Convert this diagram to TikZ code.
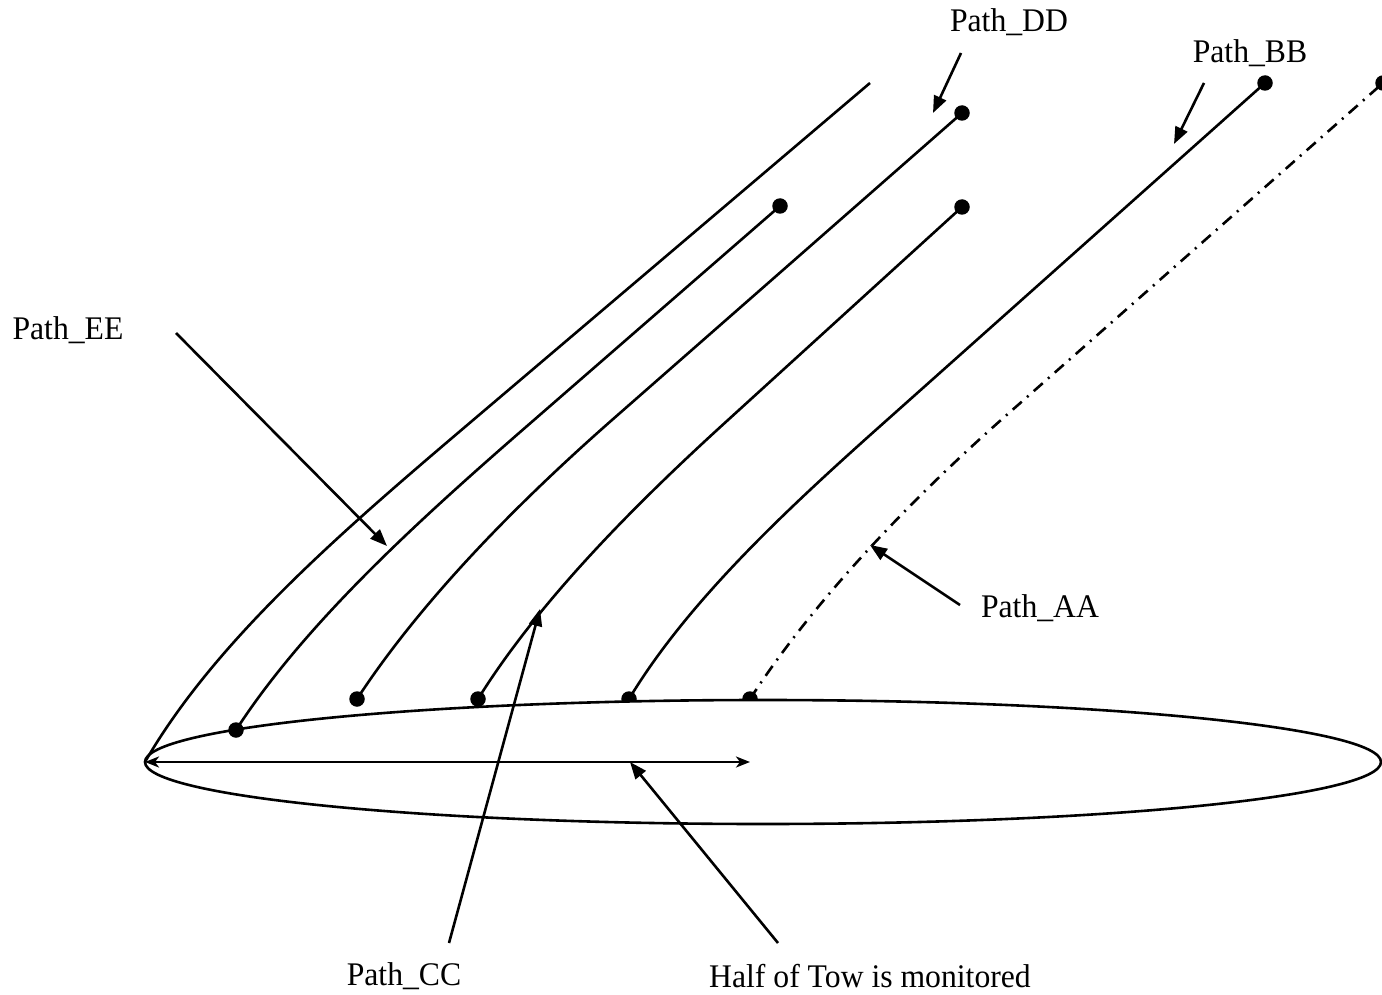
\documentclass[tikz,border=0pt]{standalone}
\usepackage{fontspec}
\setmainfont{Liberation Serif}
\usetikzlibrary{arrows.meta,shapes.geometric}
\newcommand{\labtxt}[1]{\scalebox{0.96}[1]{#1}}
\begin{document}
\begin{tikzpicture}[x=1pt,y=-1pt,
  line/.style={line width=2.6pt},
  dot/.style={circle,fill=black,inner sep=0pt,minimum size=15.5pt},
  lab/.style={font=\fontsize{33}{39}\selectfont,inner sep=0pt},
  pointer/.style={line width=2.6pt,-{Triangle[length=17pt,width=13pt]}},
  dbl/.style={line width=2.6pt,{Stealth[length=14pt,width=11pt,inset=4pt]}-{Stealth[length=14pt,width=11pt,inset=4pt]}},
  dashdot/.style={line width=2.6pt,dash pattern=on 12pt off 7pt on 2pt off 7pt}]
\useasboundingbox (0,0) rectangle (1382,995);

% dots partly under the ellipse
\node[dot] (a1) at (750,699) {};
\node[dot] (a2) at (1383,83) {};
\node[dot] (b1) at (629,699) {};
\node[dot] (b2) at (1265,83) {};
\draw[dashdot] (a1.center) .. controls (811,605) and (903,507) .. (1001,420) -- (a2.center);
\draw[line] (b1.center) .. controls (688,601) and (788,508) .. (887,420) -- (b2.center);

% the tow
\node[draw,line width=2.6pt,fill=white,ellipse,inner sep=0pt,minimum width=1236pt,minimum height=124pt] (tow) at (763,762) {};

% outer boundary
\coordinate (o1) at (145,762);
\coordinate (o2) at (870,83);
\draw[line] (o1) .. controls (216,639) and (346,528) .. (472,421) -- (o2);

% other paths
\node[dot] (e1) at (236,730) {};
\node[dot] (e2) at (780,206) {};
\draw[line] (e1.center) .. controls (306,622) and (421,518) .. (534,420) -- (e2.center);
\node[dot] (d1) at (357,699) {};
\node[dot] (d2) at (962,113) {};
\draw[line] (d1.center) .. controls (419,604) and (513,507) .. (612,420) -- (d2.center);
\node[dot] (c1) at (478,699) {};
\node[dot] (c2) at (962,207) {};
\draw[line] (c1.center) .. controls (537,604) and (631,508) .. (728,420) -- (c2.center);

% half-width arrow
\coordinate (h1) at (145,762);
\coordinate (h2) at (750,762);
\draw[dbl] (h1) -- (h2);

% labels
\node[lab] (lDD) at (1009,22) {\labtxt{Path\_DD}};
\node[lab] (lBB) at (1250,53) {\labtxt{Path\_BB}};
\node[lab] (lEE) at (68,330) {\labtxt{Path\_EE}};
\node[lab] (lAA) at (1040,608) {\labtxt{Path\_AA}};
\node[lab] (lCC) at (404,976) {\labtxt{Path\_CC}};
\node[lab] (lHT) at (870,976) {\labtxt{Half of Tow is monitored}};

% pointer arrows
\coordinate (tDD) at (961,53);   \coordinate (pDD) at (933,113);
\coordinate (tBB) at (1204,83);  \coordinate (pBB) at (1174,144);
\coordinate (tEE) at (176,333);  \coordinate (pEE) at (387,546);
\coordinate (tAA) at (960,605);  \coordinate (pAA) at (870,545);
\coordinate (tCC) at (449,943);  \coordinate (pCC) at (540,609);
\coordinate (tHT) at (778,943);  \coordinate (pHT) at (630,762);
\draw[pointer] (tDD) -- (pDD);
\draw[pointer] (tBB) -- (pBB);
\draw[pointer] (tEE) -- (pEE);
\draw[pointer] (tAA) -- (pAA);
\draw[pointer] (tCC) -- (pCC);
\draw[pointer] (tHT) -- (pHT);
\end{tikzpicture}
\end{document}
